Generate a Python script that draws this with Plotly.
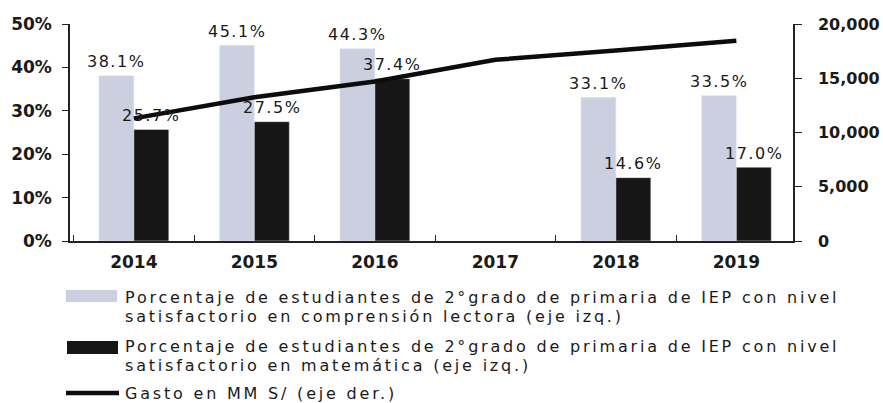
import plotly.graph_objects as go

years = ["2014", "2015", "2016", "2017", "2018", "2019"]
lectora = [38.1, 45.1, 44.3, None, 33.1, 33.5]
matematica = [25.7, 27.5, 37.4, None, 14.6, 17.0]
gasto = [11300, 13250, 14700, 16700, 17550, 18450]

legend_lectora = ["Porcentaje de estudiantes de 2°grado de primaria de IEP con nivel",
                  "satisfactorio en comprensión lectora (eje izq.)"]
legend_mate = ["Porcentaje de estudiantes de 2°grado de primaria de IEP con nivel",
               "satisfactorio en matemática (eje izq.)"]
legend_gasto = ["Gasto en MM S/ (eje der.)"]

LIGHT = "#cbcfe0"
DARK = "#161616"
TXT = "#1a1a1a"
FONT = "DejaVu Sans"

W, H = 883, 403
L, R, T, B = 70, 793, 24, 241

fig = go.Figure()
fig.add_trace(go.Bar(x=years, y=lectora, marker_color=LIGHT, name=legend_lectora[0],
                     showlegend=False))
fig.add_trace(go.Bar(x=years, y=matematica, marker_color=DARK, name=legend_mate[0],
                     showlegend=False))
fig.add_trace(go.Scatter(x=years, y=gasto, yaxis="y2", mode="lines",
                         line=dict(color="#0c0c0c", width=4.5), showlegend=False,
                         name=legend_gasto[0]))


def spaced(txt, px):
    return f'<span style="letter-spacing:{px}px">{txt}</span>'


# bar value labels (x given as category index)
cat_px = (R - L) / 6.0
half = 0.29 / 2 * cat_px
annotations = []
for i, v in enumerate(lectora):
    if v is not None:
        annotations.append(dict(x=i, y=v, xref="x", yref="y",
                                text=spaced(f"{v:.1f}%", 1.5),
                                showarrow=False, xshift=-half, yshift=14,
                                yanchor="middle",
                                font=dict(family=FONT, size=16, color=TXT)))
for i, v in enumerate(matematica):
    if v is not None:
        annotations.append(dict(x=i, y=v, xref="x", yref="y",
                                text=spaced(f"{v:.1f}%", 1.5),
                                showarrow=False, xshift=half, yshift=14,
                                yanchor="middle",
                                font=dict(family=FONT, size=16, color=TXT)))


def px_x(p):
    return (p - L) / (R - L)


def px_y(p):
    return (B - p) / (B - T)


shapes = []
# legend keys
shapes.append(dict(type="rect", xref="paper", yref="paper",
                   x0=px_x(66), x1=px_x(117), y0=px_y(302), y1=px_y(290),
                   fillcolor=LIGHT, line=dict(width=0)))
shapes.append(dict(type="rect", xref="paper", yref="paper",
                   x0=px_x(67), x1=px_x(118), y0=px_y(354), y1=px_y(341),
                   fillcolor=DARK, line=dict(width=0)))
shapes.append(dict(type="line", xref="paper", yref="paper",
                   x0=px_x(66), x1=px_x(119), y0=px_y(393), y1=px_y(393),
                   line=dict(color="#0c0c0c", width=4.5)))

legend_lines = [(legend_lectora[0], 297), (legend_lectora[1], 316),
                (legend_mate[0], 346.5), (legend_mate[1], 365.5),
                (legend_gasto[0], 393)]
for txt, ypix in legend_lines:
    annotations.append(dict(x=px_x(123), y=px_y(ypix), xref="paper", yref="paper",
                            text=spaced(txt, 2.8), showarrow=False,
                            xanchor="left", yanchor="middle",
                            font=dict(family=FONT, size=16, color=TXT)))

fig.update_layout(
    width=W, height=H,
    margin=dict(l=L, r=W - R, t=T, b=H - B, autoexpand=False),
    paper_bgcolor="white", plot_bgcolor="white",
    barmode="group", bargap=0.42, bargroupgap=0,
    showlegend=False,
    annotations=annotations, shapes=shapes,
    xaxis=dict(type="category", range=[-0.53, 5.47], showgrid=False, automargin=False,
               showline=True, linecolor="#222", linewidth=1.5,
               ticks="inside", tickson="boundaries", ticklen=6, tickcolor="#222",
               ticklabelstandoff=5,
               tickfont=dict(family=FONT, size=17, color=TXT, weight="bold")),
    yaxis=dict(range=[0, 50], dtick=10, ticksuffix="%", showgrid=False, automargin=False,
               showline=True, linecolor="#222", linewidth=1.5, zeroline=False,
               ticks="outside", ticklen=6, tickcolor="#222", ticklabelstandoff=7,
               tickfont=dict(family=FONT, size=17, color=TXT, weight="bold")),
    yaxis2=dict(range=[0, 20000], dtick=5000, tickformat=",", overlaying="y",
                side="right", showgrid=False, showline=True, linecolor="#222",
                automargin=False,
                linewidth=1.5, zeroline=False, ticks="outside", ticklen=7,
                tickcolor="#222", ticklabelstandoff=13,
                tickfont=dict(family=FONT, size=16, color=TXT, weight="bold")),
)

fig.write_html("out.html", config={"displayModeBar": False},
               post_script="document.body.style.margin='0';document.body.style.padding='0';")
